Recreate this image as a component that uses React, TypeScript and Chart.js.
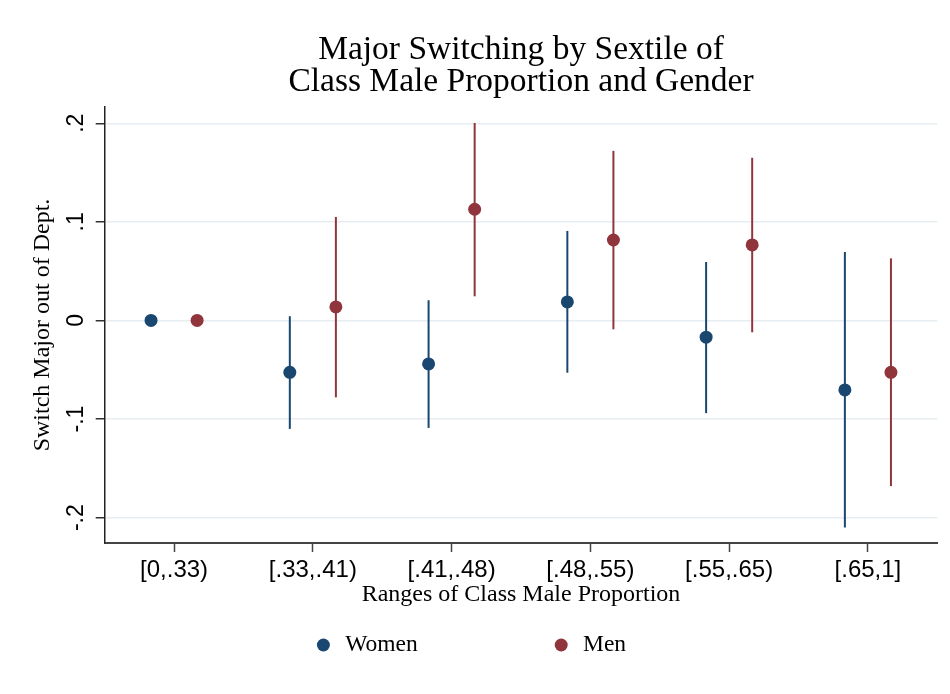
import React, { useEffect, useRef } from "react";
import { Chart, registerables } from "chart.js";

Chart.register(...registerables);

// ---- data ----
const categories = ["[0,.33)", "[.33,.41)", "[.41,.48)", "[.48,.55)", "[.55,.65)", "[.65,1]"];
const seriesNames = ["Women", "Men"];
const womenEst = [0, -0.0526, -0.0441, 0.0188, -0.017, -0.0705];
const womenLow = [null, -0.11, -0.109, -0.053, -0.094, -0.21];
const womenHigh = [null, 0.0043, 0.0205, 0.0908, 0.0593, 0.0695];
const menEst = [0, 0.0137, 0.1128, 0.0816, 0.0766, -0.0526];
const menLow = [null, -0.078, 0.0245, -0.009, -0.012, -0.168];
const menHigh = [null, 0.105, 0.2003, 0.172, 0.165, 0.063];
const yTickValues = [-0.2, -0.1, 0, 0.1, 0.2];
const yTickLabels = ["-.2", "-.1", "0", ".1", ".2"];
const titleLines = ["Major Switching by Sextile of", "Class Male Proportion and Gender"];
const yTitle = "Switch Major out of Dept.";
const xTitle = "Ranges of Class Male Proportion";

const WOMEN_COLOR = "#1a476f";
const MEN_COLOR = "#90353b";
const SERIF = "'Liberation Serif', 'Times New Roman', serif";
const SANS = "'Liberation Sans', Arial, sans-serif";
const DODGE = 0.166;

const errorBarsPlugin = {
  id: "errorBars",
  beforeDatasetsDraw(chart: any) {
    const { ctx } = chart;
    const xs = chart.scales.x;
    const ys = chart.scales.y;
    chart.data.datasets.forEach((ds: any) => {
      ctx.save();
      ctx.strokeStyle = ds.backgroundColor;
      ctx.lineWidth = 2;
      ds.data.forEach((pt: any, i: number) => {
        const lo = ds.lows[i];
        const hi = ds.highs[i];
        if (lo == null || hi == null) return;
        const px = xs.getPixelForValue(pt.x);
        ctx.beginPath();
        ctx.moveTo(px, ys.getPixelForValue(lo));
        ctx.lineTo(px, ys.getPixelForValue(hi));
        ctx.stroke();
      });
      ctx.restore();
    });
  },
};

const legendPlugin = {
  id: "customLegend",
  afterDraw(chart: any) {
    const { ctx, width } = chart;
    const fontSize = 23.5;
    ctx.save();
    ctx.font = `${fontSize}px ${SERIF}`;
    ctx.textBaseline = "middle";
    ctx.textAlign = "left";
    const markerD = 13;
    const markerGap = 15.3;
    const itemGap = 137;
    const items = chart.data.datasets.map((ds: any) => ({
      label: ds.label,
      color: ds.backgroundColor,
      w: ctx.measureText(ds.label).width,
    }));
    let total = 0;
    items.forEach((it: any, i: number) => {
      total += markerD + markerGap + it.w + (i < items.length - 1 ? itemGap : 0);
    });
    let x = width / 2 - 3.5 - total / 2;
    const y = 645;
    items.forEach((it: any) => {
      ctx.fillStyle = it.color;
      ctx.beginPath();
      ctx.arc(x + markerD / 2, y, markerD / 2, 0, Math.PI * 2);
      ctx.fill();
      ctx.fillStyle = "#000";
      ctx.fillText(it.label, x + markerD + markerGap, y);
      x += markerD + markerGap + it.w + itemGap;
    });
    ctx.restore();
  },
};

export default function App() {
  const canvasRef = useRef<HTMLCanvasElement | null>(null);

  useEffect(() => {
    if (!canvasRef.current) return;
    const mk = (est: number[], off: number) => est.map((v, i) => ({ x: i + off, y: v }));
    const chart = new Chart(canvasRef.current, {
      type: "scatter",
      data: {
        datasets: [
          {
            label: seriesNames[0],
            data: mk(womenEst, -DODGE),
            lows: womenLow,
            highs: womenHigh,
            backgroundColor: WOMEN_COLOR,
            borderColor: WOMEN_COLOR,
            pointRadius: 6.5,
            pointBorderWidth: 0,
          } as any,
          {
            label: seriesNames[1],
            data: mk(menEst, DODGE),
            lows: menLow,
            highs: menHigh,
            backgroundColor: MEN_COLOR,
            borderColor: MEN_COLOR,
            pointRadius: 6.5,
            pointBorderWidth: 0,
          } as any,
        ],
      },
      options: {
        animation: false,
        responsive: false,
        layout: { padding: { left: 0, right: 12.7, top: 0, bottom: 81 } },
        plugins: {
          legend: { display: false },
          tooltip: { enabled: false },
          title: {
            display: true,
            text: titleLines,
            color: "#000",
            fullSize: false,
            font: { family: SERIF, size: 33.5, weight: "normal", lineHeight: 0.955 },
            padding: { top: 34, bottom: 9 },
          },
        },
        scales: {
          x: {
            type: "linear",
            min: -0.5,
            max: 5.5,
            afterBuildTicks: (scale: any) => {
              scale.ticks = categories.map((_, i) => ({ value: i }));
            },
            afterFit: (scale: any) => {
              scale.height = 70;
            },
            ticks: {
              color: "#000",
              font: { family: SANS, size: 24 },
              padding: 4,
              autoSkip: false,
              maxRotation: 0,
              minRotation: 0,
              callback: (v: any) => categories[Math.round(Number(v))] ?? "",
            },
            grid: {
              display: true,
              drawOnChartArea: false,
              drawTicks: true,
              tickLength: 9,
              tickColor: "#444",
              tickWidth: 1.5,
            },
            border: { display: true, color: "#444", width: 2 },
            title: {
              display: true,
              text: xTitle,
              color: "#000",
              font: { family: SERIF, size: 24, weight: "normal" },
              padding: { top: 0, bottom: 4 },
            },
          },
          y: {
            type: "linear",
            min: -0.2257,
            max: 0.2165,
            afterBuildTicks: (scale: any) => {
              scale.ticks = yTickValues.map((v) => ({ value: v }));
            },
            afterFit: (scale: any) => {
              scale.width = 104.7;
            },
            ticks: {
              color: "#000",
              font: { family: SANS, size: 23 },
              padding: 6,
              minRotation: 90,
              maxRotation: 90,
              crossAlign: "center",
              autoSkip: false,
              callback: (v: any) => {
                const idx = yTickValues.findIndex((t) => Math.abs(t - Number(v)) < 1e-9);
                return idx >= 0 ? yTickLabels[idx] : "";
              },
            },
            grid: {
              display: true,
              drawOnChartArea: true,
              color: "#e6eef1",
              lineWidth: 1.5,
              tickLength: 9,
              tickColor: "#333",
              tickWidth: 1.5,
            },
            border: { display: true, color: "#222", width: 1.5 },
            title: {
              display: true,
              text: yTitle,
              color: "#000",
              font: { family: SERIF, size: 24, weight: "normal" },
              padding: { top: 28.3, bottom: 0 },
            },
          },
        },
      } as any,
      plugins: [errorBarsPlugin, legendPlugin],
    });
    return () => chart.destroy();
  }, []);

  return (
    <div
      style={{
        position: "fixed",
        left: 0,
        top: 0,
        width: 950,
        height: 694,
        background: "#fff",
      }}
    >
      <canvas ref={canvasRef} width={950} height={694} style={{ width: 950, height: 694, display: "block" }} />
    </div>
  );
}
